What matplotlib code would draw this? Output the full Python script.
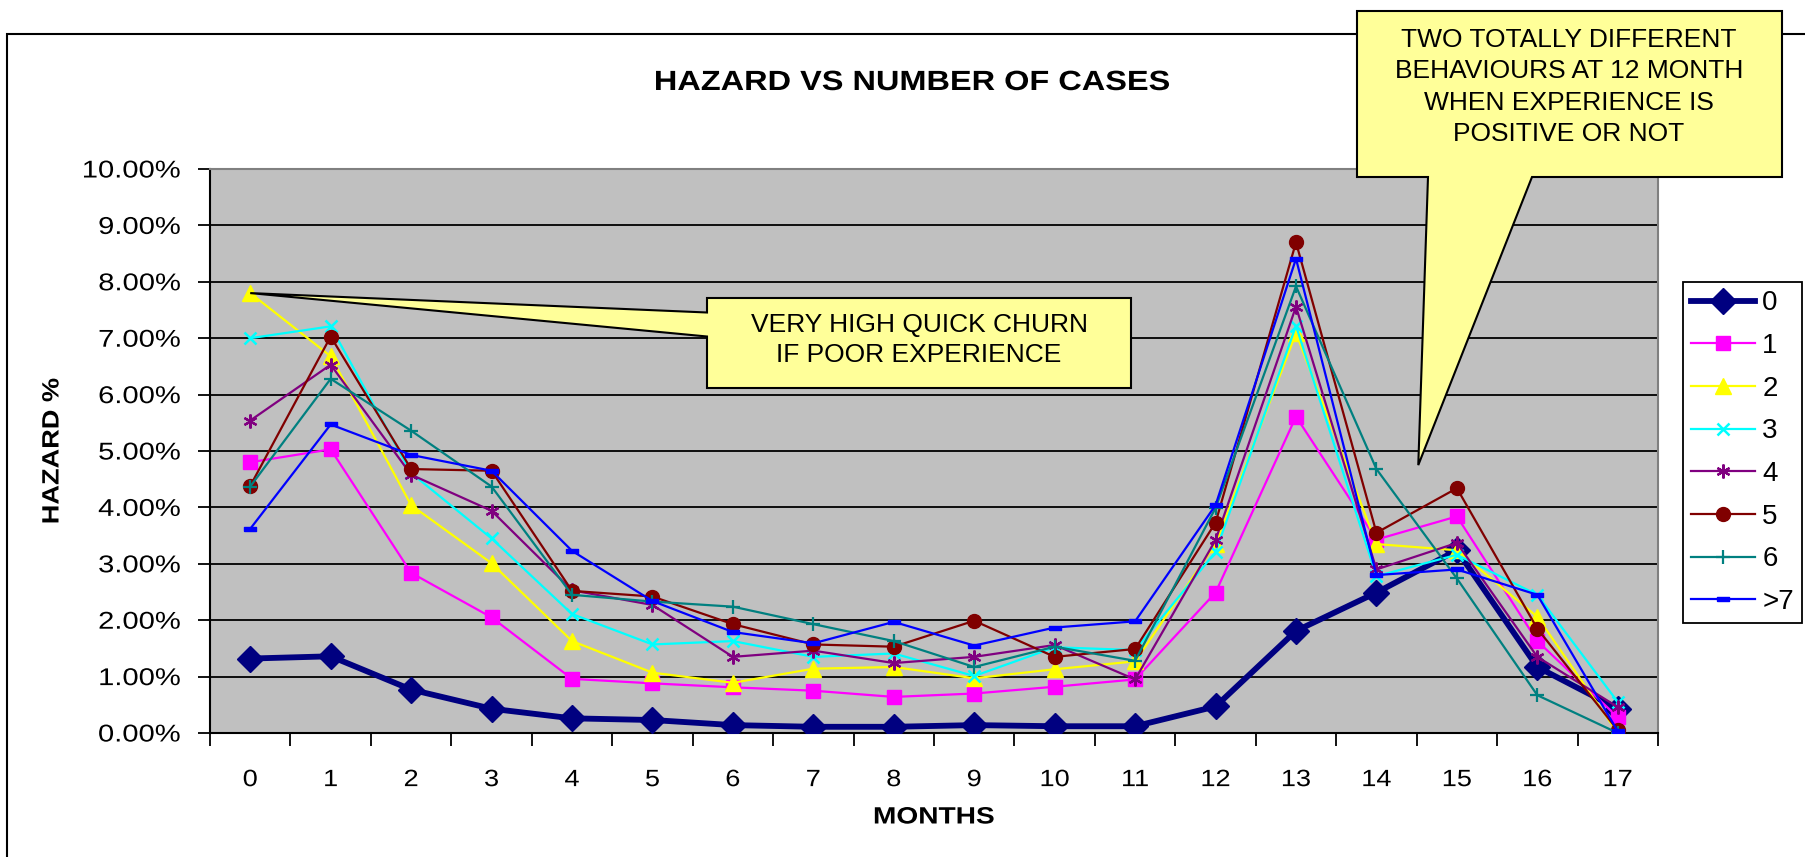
import matplotlib
matplotlib.use("Agg")
import matplotlib.pyplot as plt
from matplotlib.patches import Polygon, Rectangle
from matplotlib.patheffects import AbstractPathEffect
from matplotlib.transforms import Affine2D
from matplotlib.ticker import FixedLocator, FuncFormatter, NullFormatter

plt.rcParams["font.family"] = ["Liberation Sans", "DejaVu Sans"]

# ---- data: hazard (%) by month since start, per number of cases ----
months = list(range(18))
series_labels = ["0", "1", "2", "3", "4", "5", "6", ">7"]

hazard_0 = [1.32, 1.36, 0.77, 0.43, 0.26, 0.23, 0.14, 0.11, 0.11, 0.14, 0.12, 0.12, 0.47, 1.81, 2.49, 3.24, 1.17, 0.43]
hazard_1 = [4.80, 5.03, 2.84, 2.05, 0.96, 0.88, 0.81, 0.75, 0.64, 0.70, 0.82, 0.95, 2.49, 5.61, 3.43, 3.84, 1.63, 0.28]
hazard_2 = [7.80, 6.68, 4.04, 3.01, 1.63, 1.07, 0.89, 1.14, 1.17, 0.97, 1.13, 1.27, 3.35, 7.09, 3.35, 3.24, 2.06, 0.00]
hazard_3 = [7.00, 7.21, 4.61, 3.45, 2.11, 1.57, 1.63, 1.35, 1.41, 1.01, 1.52, 1.47, 3.21, 7.22, 2.78, 3.16, 2.45, 0.55]
hazard_4 = [5.54, 6.53, 4.58, 3.94, 2.53, 2.27, 1.35, 1.46, 1.24, 1.35, 1.56, 0.95, 3.42, 7.56, 2.90, 3.37, 1.35, 0.46]
hazard_5 = [4.38, 7.03, 4.68, 4.65, 2.52, 2.42, 1.93, 1.57, 1.53, 1.99, 1.35, 1.49, 3.73, 8.70, 3.55, 4.34, 1.85, 0.05]
hazard_6 = [4.37, 6.28, 5.36, 4.37, 2.45, 2.33, 2.24, 1.93, 1.63, 1.17, 1.53, 1.28, 3.99, 7.92, 4.68, 2.74, 0.67, 0.00]
hazard_7 = [3.62, 5.47, 4.93, 4.65, 3.23, 2.34, 1.79, 1.59, 1.97, 1.55, 1.87, 1.98, 4.04, 8.41, 2.80, 2.90, 2.45, 0.03]

all_series = [hazard_0, hazard_1, hazard_2, hazard_3, hazard_4, hazard_5, hazard_6, hazard_7]


class StretchX(AbstractPathEffect):
    """Draw text glyphs widened horizontally about a chosen anchor."""

    def __init__(self, sx, anchor="center"):
        super().__init__()
        self.sx = sx
        self.anchor = anchor

    def draw_path(self, renderer, gc, tpath, affine, rgbFace=None):
        ext = tpath.get_extents()
        if self.anchor == "right":
            cx = ext.x1
        elif self.anchor == "left":
            cx = ext.x0
        else:
            cx = 0.5 * (ext.x0 + ext.x1)
        t = Affine2D().translate(-cx, 0).scale(self.sx, 1).translate(cx, 0) + affine
        renderer.draw_path(gc, tpath, t, rgbFace)


# ---- styles per series ----
dash_marker = [(-1, -0.42), (1, -0.42), (1, 0.42), (-1, 0.42), (-1, -0.42)]
styles = [
    dict(color="#000080", marker="D", ms=13, lw=4.2),
    dict(color="#FF00FF", marker="s", ms=9.5, lw=1.6),
    dict(color="#FFFF00", marker="^", ms=11, lw=1.6),
    dict(color="#00FFFF", marker="x", ms=8, mew=1.8, lw=1.6),
    dict(color="#800080", marker=(6, 2, 0), ms=10, mew=1.6, lw=1.6),
    dict(color="#800000", marker="o", ms=10, lw=1.6),
    dict(color="#008080", marker="+", ms=10, mew=1.6, lw=1.6),
    dict(color="#0000FF", marker=dash_marker, ms=8, lw=1.6),
]

W, H = 1805, 857
fig = plt.figure(figsize=(W / 100, H / 100), dpi=100)
fig.patch.set_facecolor("white")


def fpos(x, y):
    """pixel position (origin top-left) -> figure fraction"""
    return (x / W, 1 - y / H)


ax = fig.add_axes([210 / W, 1 - 733 / H, (1658 - 210) / W, (733 - 169) / H])
ax.set_facecolor("#C0C0C0")
ax.set_xlim(-0.5, 17.5)
ax.set_ylim(0, 10)

for vals, lab, st in zip(all_series, series_labels, styles):
    ax.plot(months, vals, label=lab, color=st["color"], lw=st["lw"],
            marker=st["marker"], ms=st["ms"], mew=st.get("mew", 1.0),
            mfc=st["color"], mec=st["color"], solid_joinstyle="miter", zorder=3)

# axes, grid, ticks
ax.yaxis.set_major_locator(FixedLocator([i for i in range(11)]))
ax.yaxis.set_major_formatter(FuncFormatter(lambda v, p: f"{v:.2f}%"))
ax.grid(axis="y", color="black", lw=1.3)
ax.set_axisbelow(True)
ax.xaxis.set_major_locator(FixedLocator(months))
ax.xaxis.set_major_formatter(FuncFormatter(lambda v, p: f"{int(v)}"))
ax.xaxis.set_minor_locator(FixedLocator([m - 0.5 for m in months] + [17.5]))
ax.xaxis.set_minor_formatter(NullFormatter())
ax.tick_params(axis="x", which="major", length=0, pad=26, labelsize=17)
ax.tick_params(axis="x", which="minor", length=9, width=1.3, color="black")
ax.tick_params(axis="y", which="major", length=9, width=1.3, pad=12, labelsize=17.5)
for s in ("left", "bottom"):
    ax.spines[s].set_color("black")
    ax.spines[s].set_linewidth(1.5)
for s in ("top", "right"):
    ax.spines[s].set_color("#808080")
    ax.spines[s].set_linewidth(1.5)

for lbl in ax.yaxis.get_ticklabels():
    lbl.set_path_effects([StretchX(1.2, "right")])
for lbl in ax.xaxis.get_ticklabels():
    lbl.set_path_effects([StretchX(1.15)])

ax.set_xlabel("MONTHS", fontsize=17, fontweight="bold")
ax.xaxis.set_label_coords(0.5, (733 - 817) / (733 - 169))
ax.xaxis.label.set_verticalalignment("center")
ax.xaxis.label.set_path_effects([StretchX(1.19)])
ax.set_ylabel("HAZARD %", fontsize=17, fontweight="bold")
ax.yaxis.set_label_coords((52 - 210) / (1658 - 210), 0.5)
ax.yaxis.label.set_verticalalignment("center")
ax.yaxis.label.set_path_effects([StretchX(1.15)])

title = fig.text(*fpos(912, 83), "HAZARD VS NUMBER OF CASES", ha="center", va="center",
                 fontsize=20, fontweight="bold")
title.set_path_effects([StretchX(1.17)])

# legend
leg = ax.legend(loc="upper left", bbox_to_anchor=fpos(1683, 282),
                bbox_transform=fig.transFigure, fontsize=20, frameon=True,
                fancybox=False, edgecolor="black", framealpha=1,
                handlelength=2.3, handletextpad=0.25, labelspacing=0.6,
                borderpad=0.3, borderaxespad=0)
leg.get_frame().set_linewidth(1.3)

# chart border
fig.add_artist(Rectangle(fpos(7, 900), 2, (900 - 34) / H, transform=fig.transFigure,
                         fill=False, edgecolor="black", lw=1.5, zorder=0))

# callouts
to_fig = fig.transFigure.inverted()
tip1 = to_fig.transform(ax.transData.transform((months[0], hazard_2[0])))
box1 = [fpos(707, 298), fpos(1131, 298), fpos(1131, 388), fpos(707, 388),
        fpos(707, 336.5), tuple(tip1), fpos(707, 312.5)]
fig.add_artist(Polygon(box1, closed=True, transform=fig.transFigure,
                       facecolor="#FFFF99", edgecolor="black", lw=1.5, zorder=10))
fig.text(*fpos(919, 340), "VERY HIGH QUICK CHURN\nIF POOR EXPERIENCE",
         ha="center", va="center", fontsize=19, linespacing=1.35, zorder=11)

tip2 = to_fig.transform(ax.transData.transform((14.52, 4.75)))
box2 = [fpos(1357, 11), fpos(1782, 11), fpos(1782, 177), fpos(1532, 177),
        tuple(tip2), fpos(1428, 177), fpos(1357, 177)]
fig.add_artist(Polygon(box2, closed=True, transform=fig.transFigure,
                       facecolor="#FFFF99", edgecolor="black", lw=1.5, zorder=10))
fig.text(*fpos(1569, 87), "TWO TOTALLY DIFFERENT\nBEHAVIOURS AT 12 MONTH\nWHEN EXPERIENCE IS\nPOSITIVE OR NOT",
         ha="center", va="center", fontsize=19, linespacing=1.38, zorder=11)

fig.savefig("out.png", dpi=100)
